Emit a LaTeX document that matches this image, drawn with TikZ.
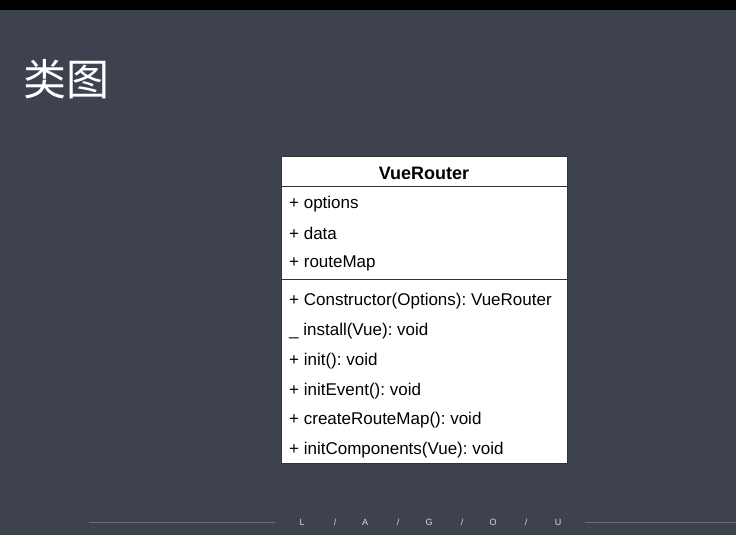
\documentclass[tikz,border=0pt]{standalone}
\usepackage{fontspec}
\setmainfont{Liberation Sans}
\newfontfamily\cjk{Noto Sans CJK SC}
\frenchspacing
\definecolor{slide}{HTML}{3E424F}
\definecolor{rule}{HTML}{6B6F7A}
\tikzset{
    member/.style={anchor=west, inner sep=0pt, font=\fontsize{17}{17}\selectfont, text=black},
    brand/.style={inner sep=0pt, font=\fontsize{9}{9}\selectfont, text=white!80!slide}
}
\begin{document}
\begin{tikzpicture}[x=1pt, y=-1pt]
    \useasboundingbox (0,0) rectangle (736,535);
    \fill[slide] (0,0) rectangle (736,535);
    \fill[black] (0,0) rectangle (736,10);

    \node[anchor=west, inner sep=0pt, text=white, font=\cjk\fontsize{43}{43}\selectfont] (title) at (23,79) {类图};

    % class box
    \draw[fill=white, draw=black!80, line width=0.8pt] (281,156) rectangle (567,463);
    \draw[black!80, line width=0.8pt] (281,186) -- (567,186);
    \draw[black!80, line width=0.8pt] (281,279) -- (567,279);

    \node[inner sep=0pt, font=\bfseries\fontsize{18}{18}\selectfont] (name) at (424,173) {VueRouter};

    \node[member] (options) at (289,204) {+ options};
    \node[member] (data) at (289,233.5) {+ data};
    \node[member] (routemap) at (289,263.5) {+ routeMap};

    \node[member] (ctor) at (289,301) {+ Constructor(Options): VueRouter};
    \node[member] (install) at (289,331) {\_ install(Vue): void};
    \node[member] (init) at (289,361) {+ init(): void};
    \node[member] (initevent) at (289,391) {+ initEvent(): void};
    \node[member] (createmap) at (289,420.5) {+ createRouteMap(): void};
    \node[member] (initcomp) at (289,450.5) {+ initComponents(Vue): void};

    % footer
    \draw[rule, line width=1pt] (89,522) -- (275,522);
    \draw[rule, line width=1pt] (585,522) -- (736,522);
    \foreach \ch/\xx in {L/302, {/}/335, A/365, {/}/398, G/429, {/}/462, O/493, {/}/526, U/558}
        \node[brand] at (\xx,522) {\ch};
\end{tikzpicture}
\end{document}
